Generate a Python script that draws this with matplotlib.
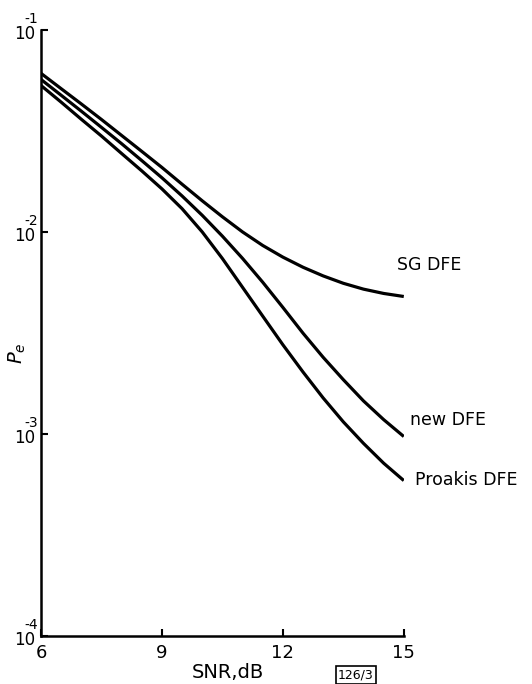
import matplotlib.pyplot as plt

# SNR in dB, read every half dB off the scanned figure
snr = [6, 6.5, 7, 7.5, 8, 8.5, 9, 9.5, 10, 10.5, 11, 11.5, 12, 12.5, 13, 13.5, 14, 14.5, 15]
sg_dfe = [0.0611, 0.0513, 0.0431, 0.0361, 0.0301, 0.0251, 0.0209, 0.01726, 0.01429, 0.01191,
          0.01002, 0.00859, 0.00752, 0.0067, 0.00607, 0.00558, 0.00522, 0.00497, 0.0048]
new_dfe = [0.0570, 0.0476, 0.0397, 0.0330, 0.0274, 0.0226, 0.01858, 0.0151, 0.01211, 0.00955,
           0.00741, 0.00565, 0.00424, 0.00316, 0.0024, 0.00186, 0.00146, 0.00118, 0.000973]
proakis_dfe = [0.0532, 0.0440, 0.0362, 0.0299, 0.0245, 0.0201, 0.01637, 0.01306, 0.01002, 0.0074,
               0.00533, 0.00384, 0.00277, 0.00203, 0.00151, 0.00115, 0.0009, 0.000718, 0.000589]

xticks = [6, 9, 12, 15]
yticks = [1e-4, 1e-3, 1e-2, 1e-1]
yexp = ["-4", "-3", "-2", "-1"]

fig = plt.figure(figsize=(5.32, 6.84), dpi=100)
ax = fig.add_axes([0.077, 0.070, 0.682, 0.886])

for y in (sg_dfe, new_dfe, proakis_dfe):
    ax.plot(snr, y, color="black", lw=2.3, solid_capstyle="butt")

ax.set_yscale("log")
ax.set_xlim(6, 15)
ax.set_ylim(1e-4, 1e-1)
ax.set_xticks(xticks)
ax.set_xticklabels([str(t) for t in xticks], fontsize=13)
ax.set_yticks(yticks)
ax.set_yticklabels([])
ax.minorticks_off()
ax.tick_params(direction="in", length=5, width=1.5, pad=6)

# y tick labels drawn as "10" with the exponent sitting above it
for v, e in zip(yticks, yexp):
    ax.annotate("10", xy=(0, v), xycoords=("axes fraction", "data"), xytext=(-4, -3),
                textcoords="offset points", ha="right", va="center", fontsize=12,
                annotation_clip=False)
    ax.annotate(e, xy=(0, v), xycoords=("axes fraction", "data"), xytext=(-2, 8),
                textcoords="offset points", ha="right", va="center", fontsize=10,
                annotation_clip=False)

for s in ("top", "right"):
    ax.spines[s].set_visible(False)
for s in ("left", "bottom"):
    ax.spines[s].set_linewidth(1.8)

fig.text(228 / 532, 1 - 672 / 684, "SNR,dB", fontsize=14, ha="center", va="center")
fig.text(17 / 532, 1 - 353 / 684, r"$P_e$", fontsize=14, ha="center", va="center", rotation=90)

ax.text(14.83, 0.0069, "SG DFE", fontsize=12.5, va="center", ha="left", clip_on=False)
ax.text(15.15, 0.00117, "new DFE", fontsize=12.5, va="center", ha="left", clip_on=False)
ax.text(15.27, 0.00059, "Proakis DFE", fontsize=12.5, va="center", ha="left", clip_on=False)

fig.text(356 / 532, 1 - 675 / 684, "126/3", fontsize=9, ha="center", va="center",
         bbox=dict(boxstyle="square,pad=0.2", fc="white", ec="black", lw=1.2))

fig.savefig("out.png", dpi=100)
